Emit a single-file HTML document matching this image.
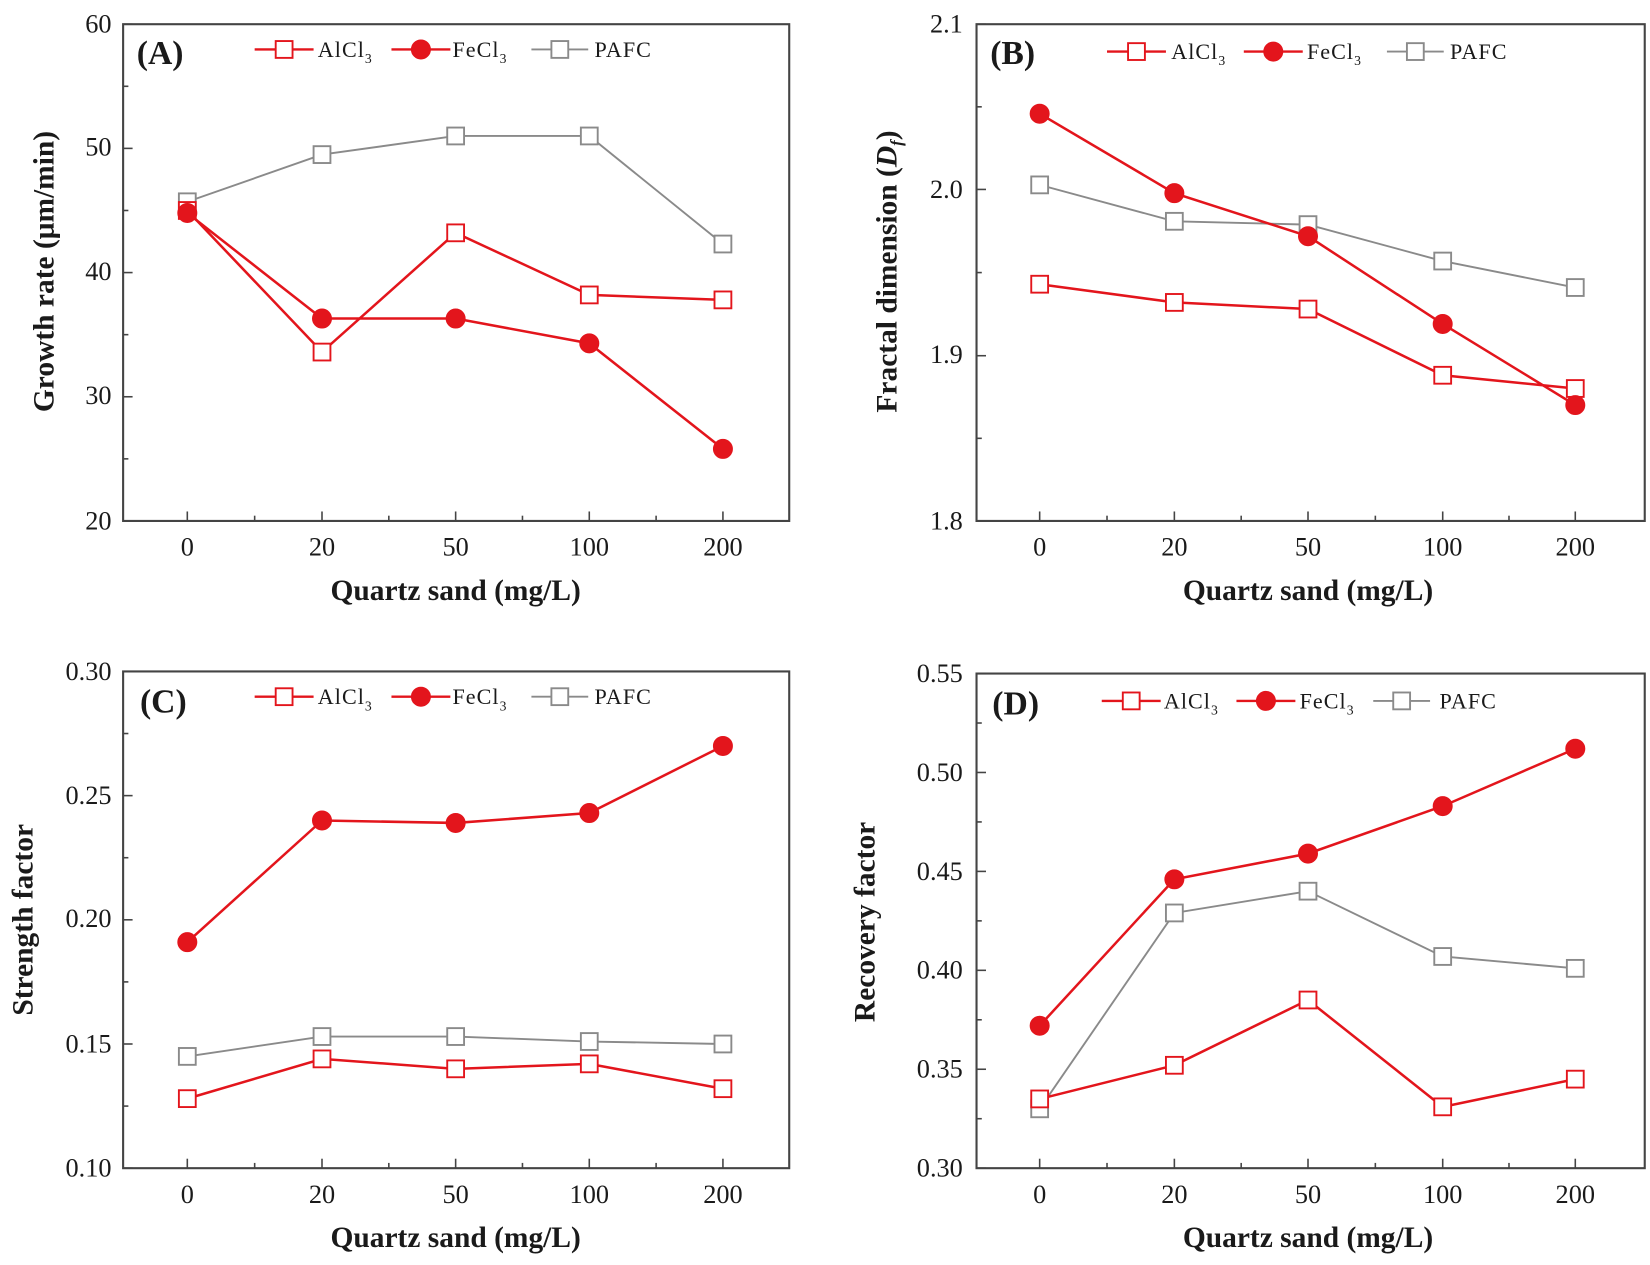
<!DOCTYPE html>
<html><head><meta charset="utf-8"><style>
html,body{margin:0;padding:0;background:#fff;}
svg{display:block;}
text{font-family:"Liberation Serif",serif;fill:#1a1a1a;}
.tk{font-size:25px;}
.tl{font-size:28px;font-weight:bold;}
.lg{font-size:21px;letter-spacing:1px;}
.pl{font-size:32px;font-weight:bold;}
</style></head><body>
<svg id="s" width="1650" height="1265" viewBox="0 0 1568 1202" preserveAspectRatio="none" xmlns="http://www.w3.org/2000/svg">
<g id="g"></g>
<!-- Panel A text -->
<text class="pl" x="130" y="61">(A)</text>
<text class="lg" x="302" y="54">AlCl<tspan font-size="13" dy="6">3</tspan></text>
<text class="lg" x="430" y="54">FeCl<tspan font-size="13" dy="6">3</tspan></text>
<text class="lg" x="565" y="54">PAFC</text>
<g class="tk" text-anchor="end"><text x="106" y="31">60</text><text x="106" y="148">50</text><text x="106" y="266">40</text><text x="106" y="384">30</text><text x="106" y="503">20</text></g>
<g class="tk" text-anchor="middle"><text x="178" y="528">0</text><text x="306" y="528">20</text><text x="433" y="528">50</text><text x="560" y="528">100</text><text x="687" y="528">200</text></g>
<text class="tl" x="433" y="570" text-anchor="middle">Quartz sand (mg/L)</text>
<text class="tl" transform="translate(51,258) rotate(-90)" text-anchor="middle">Growth rate (μm/min)</text>
<!-- Panel B -->
<text class="pl" x="941" y="61">(B)</text>
<text class="lg" x="1113" y="56">AlCl<tspan font-size="13" dy="6">3</tspan></text>
<text class="lg" x="1242" y="56">FeCl<tspan font-size="13" dy="6">3</tspan></text>
<text class="lg" x="1378" y="56">PAFC</text>
<g class="tk" text-anchor="end"><text x="915" y="31">2.1</text><text x="915" y="188">2.0</text><text x="915" y="345">1.9</text><text x="915" y="503">1.8</text></g>
<g class="tk" text-anchor="middle"><text x="988" y="528">0</text><text x="1116" y="528">20</text><text x="1243" y="528">50</text><text x="1371" y="528">100</text><text x="1497" y="528">200</text></g>
<text class="tl" x="1243" y="570" text-anchor="middle">Quartz sand (mg/L)</text>
<text class="tl" transform="translate(852,258) rotate(-90)" text-anchor="middle">Fractal dimension (<tspan font-style="italic">D</tspan><tspan font-size="16" dy="5" font-style="italic">f</tspan><tspan dy="-5">)</tspan></text>
<!-- Panel C -->
<text class="pl" x="133" y="677">(C)</text>
<text class="lg" x="302" y="669">AlCl<tspan font-size="13" dy="6">3</tspan></text>
<text class="lg" x="430" y="669">FeCl<tspan font-size="13" dy="6">3</tspan></text>
<text class="lg" x="565" y="669">PAFC</text>
<g class="tk" text-anchor="end"><text x="106" y="646">0.30</text><text x="106" y="764">0.25</text><text x="106" y="881">0.20</text><text x="106" y="1000">0.15</text><text x="106" y="1118">0.10</text></g>
<g class="tk" text-anchor="middle"><text x="178" y="1143">0</text><text x="306" y="1143">20</text><text x="433" y="1143">50</text><text x="560" y="1143">100</text><text x="687" y="1143">200</text></g>
<text class="tl" x="433" y="1185" text-anchor="middle">Quartz sand (mg/L)</text>
<text class="tl" transform="translate(31,874) rotate(-90)" text-anchor="middle">Strength factor</text>
<!-- Panel D -->
<text class="pl" x="943" y="679">(D)</text>
<text class="lg" x="1106" y="673">AlCl<tspan font-size="13" dy="6">3</tspan></text>
<text class="lg" x="1235" y="673">FeCl<tspan font-size="13" dy="6">3</tspan></text>
<text class="lg" x="1368" y="673">PAFC</text>
<g class="tk" text-anchor="end"><text x="915" y="648">0.55</text><text x="915" y="742">0.50</text><text x="915" y="836">0.45</text><text x="915" y="930">0.40</text><text x="915" y="1024">0.35</text><text x="915" y="1118">0.30</text></g>
<g class="tk" text-anchor="middle"><text x="988" y="1143">0</text><text x="1116" y="1143">20</text><text x="1243" y="1143">50</text><text x="1371" y="1143">100</text><text x="1497" y="1143">200</text></g>
<text class="tl" x="1243" y="1185" text-anchor="middle">Quartz sand (mg/L)</text>
<text class="tl" transform="translate(831,876) rotate(-90)" text-anchor="middle">Recovery factor</text>
</svg>
<script>
var NS="http://www.w3.org/2000/svg",g=document.getElementById("g");
function el(t,a){var e=document.createElementNS(NS,t);for(var k in a)e.setAttribute(k,a[k]);g.appendChild(e);return e;}
var RED="#e3151c",GR="#8a8a8a";
function sq(x,y,c){el("rect",{x:x-8,y:y-8,width:16,height:16,fill:"#fff",stroke:c,"stroke-width":1.8});}
function ci(x,y){el("circle",{cx:x,cy:y,r:9,fill:RED,stroke:RED});}
function panel(P){
  var L=P.l,R=P.r,T=P.t,B=P.b;
  el("rect",{x:L,y:T,width:R-L,height:B-T,fill:"none",stroke:"#444","stroke-width":2});
  var ys=P.ys;
  for(var i=0;i<ys.length;i++){el("line",{x1:L,y1:ys[i],x2:L+9,y2:ys[i],stroke:"#444","stroke-width":1.5});
    if(i<ys.length-1){var m=(ys[i]+ys[i+1])/2;el("line",{x1:L,y1:m,x2:L+5,y2:m,stroke:"#444","stroke-width":1.5});}}
  var xs=P.xs;
  for(var i=0;i<xs.length;i++){el("line",{x1:xs[i],y1:B,x2:xs[i],y2:B-9,stroke:"#444","stroke-width":1.5});
    if(i<xs.length-1){var m=(xs[i]+xs[i+1])/2;el("line",{x1:m,y1:B,x2:m,y2:B-5,stroke:"#444","stroke-width":1.5});}}
  function Y(v){return P.y0+(v-P.v0)*P.k;}
  var S=[["p",P.pafc,GR,1.8],["a",P.al,RED,2.4],["f",P.fe,RED,2.4]];
  S.forEach(function(s){var pts=s[1].map(function(v,i){return xs[i]+","+Y(v);}).join(" ");
    el("polyline",{points:pts,fill:"none",stroke:s[2],"stroke-width":s[3]});});
  S.forEach(function(s){s[1].forEach(function(v,i){if(s[0]=="f")ci(xs[i],Y(v));else sq(xs[i],Y(v),s[2]);});});
  var lg=P.lg,ly=lg[0];
  el("line",{x1:lg[1],y1:ly,x2:lg[1]+56,y2:ly,stroke:RED,"stroke-width":2.2});sq(lg[1]+28,ly,RED);
  el("line",{x1:lg[2],y1:ly,x2:lg[2]+56,y2:ly,stroke:RED,"stroke-width":2.2});ci(lg[2]+28,ly);
  el("line",{x1:lg[3],y1:ly,x2:lg[3]+54,y2:ly,stroke:GR,"stroke-width":1.8});sq(lg[3]+27,ly,GR);
}
var XA=[178,306,433,560,687],XB=[988,1116,1243,1371,1497];
panel({l:117,r:750,t:23,b:495,ys:[23,141,259,377,495],xs:XA,y0:495,v0:20,k:-11.8,
 pafc:[45.7,49.5,51,51,42.3],al:[45,33.6,43.2,38.2,37.8],fe:[44.8,36.3,36.3,34.3,25.8],lg:[47,242,372,505]});
panel({l:928,r:1563,t:23,b:495,ys:[23,180,338,495],xs:XB,y0:495,v0:1.8,k:-1573,
 pafc:[2.003,1.981,1.979,1.957,1.941],al:[1.943,1.932,1.928,1.888,1.880],fe:[2.046,1.998,1.972,1.919,1.870],lg:[49,1052,1182,1318]});
panel({l:117,r:750,t:638,b:1110,ys:[638,756,874,992,1110],xs:XA,y0:1110,v0:0.10,k:-2360,
 pafc:[.145,.153,.153,.151,.150],al:[.128,.144,.140,.142,.132],fe:[.191,.240,.239,.243,.270],lg:[662,242,372,505]});
panel({l:928,r:1563,t:640,b:1110,ys:[640,734,828,922,1016,1110],xs:XB,y0:1110,v0:0.30,k:-1880,
 pafc:[.330,.429,.440,.407,.401],al:[.335,.352,.385,.331,.345],fe:[.372,.446,.459,.483,.512],lg:[666,1047,1175,1305]});
</script>
</body></html>
